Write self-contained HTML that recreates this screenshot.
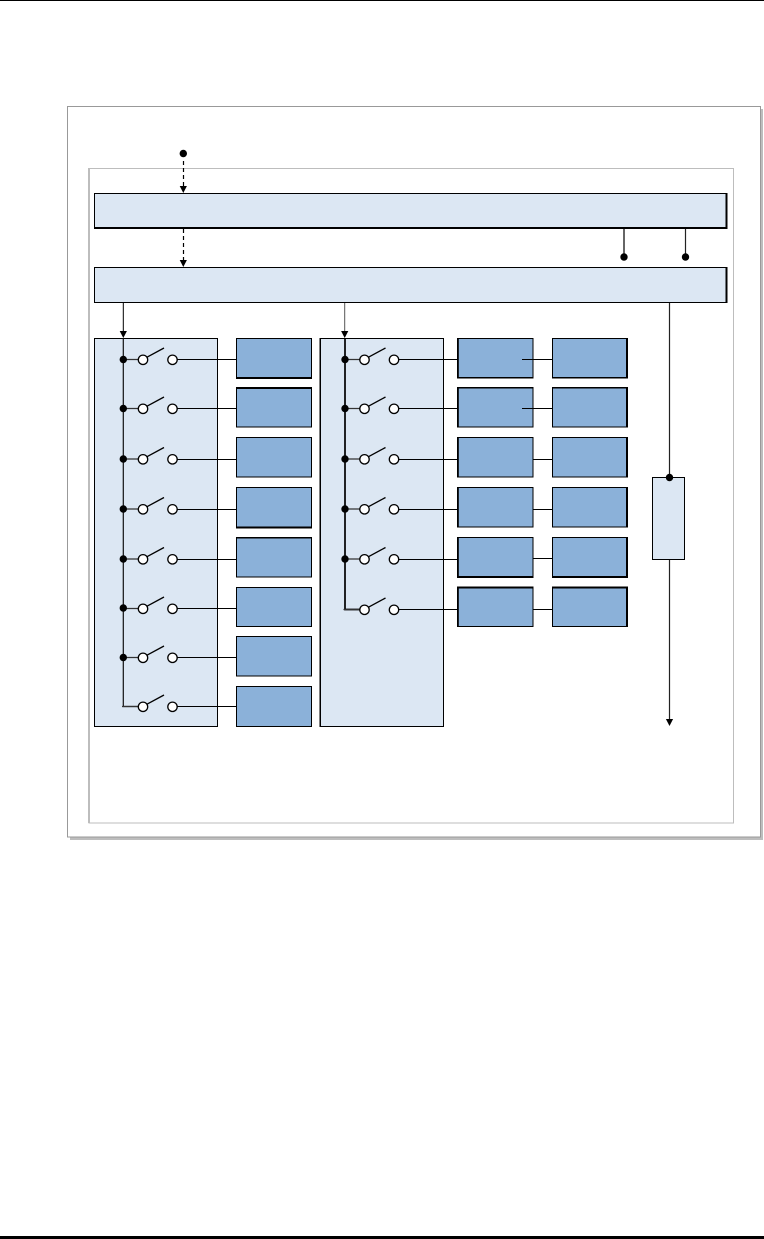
<!DOCTYPE html>
<html><head><meta charset="utf-8"><style>html,body{margin:0;padding:0;background:#fff;width:764px;height:1239px;overflow:hidden}svg{display:block}</style></head>
<body>
<svg width="764" height="1239" viewBox="0 0 764 1239" xmlns="http://www.w3.org/2000/svg">
<defs>
<g id="sw"><line x1="0" y1="0" x2="-21" y2="0" stroke="#333" stroke-width="1.2"/><line x1="4" y1="-2.3" x2="21" y2="-11.5" stroke="#000" stroke-width="1.3"/><circle cx="0" cy="0.3" r="4.7" fill="#fff" stroke="#000" stroke-width="1.3"/><circle cx="29.500" cy="0.3" r="4.7" fill="#fff" stroke="#000" stroke-width="1.3"/></g>
<g id="dot"><circle r="3.7" fill="#000"/></g>
<path id="arr" d="M-3.6,-7 L3.6,-7 L0,0 Z" fill="#000"/>
</defs>
<rect x="0" y="0" width="764" height="1" fill="#000"/>
<rect x="0" y="1236" width="764" height="3" fill="#000"/>
<!-- outer -->
<rect x="70" y="109" width="693" height="731" fill="#bdbdbd"/>
<rect x="67.500" y="106.500" width="693" height="730.500" fill="#fff" stroke="#999" stroke-width="1"/>
<!-- inner -->
<rect x="89" y="168.500" width="644.500" height="654.500" fill="#fff" stroke="#bdbdbd" stroke-width="1"/>
<rect x="88" y="168" width="2" height="655" fill="#bdbdbd"/>
<!-- bars -->
<rect x="94.500" y="193.500" width="632" height="34.500" fill="#dce7f3" stroke="#000" stroke-width="1"/>
<rect x="94" y="227" width="633.500" height="2" fill="#000"/>
<rect x="725.500" y="193" width="2" height="36" fill="#000"/>
<rect x="94.500" y="267.500" width="632" height="35" fill="#dce7f3" stroke="#000" stroke-width="1"/>
<rect x="725.500" y="267" width="2" height="36" fill="#000"/>
<!-- dashed -->
<use href="#dot" x="183.300" y="153.500"/>
<line x1="183.500" y1="161" x2="183.500" y2="188" stroke="#000" stroke-width="1.200" stroke-dasharray="4,3"/>
<use href="#arr" x="183.300" y="193"/>
<line x1="183.500" y1="229" x2="183.500" y2="262" stroke="#000" stroke-width="1.200" stroke-dasharray="4,3"/>
<use href="#arr" x="183.300" y="267"/>
<!-- stubs -->
<line x1="624" y1="229" x2="624" y2="257" stroke="#333" stroke-width="1.500"/>
<use href="#dot" x="624" y="257"/>
<line x1="685.500" y1="229" x2="685.500" y2="257" stroke="#222" stroke-width="1.200"/>
<use href="#dot" x="685.500" y="257"/>
<!-- panels -->
<rect x="94.500" y="338.500" width="123" height="388" fill="#dce7f3" stroke="#000" stroke-width="1"/>
<rect x="320" y="338.500" width="123.500" height="388" fill="#dce7f3" stroke="#000" stroke-width="1"/>
<rect x="319.500" y="338" width="1.500" height="389" fill="#000"/>
<!-- connectors to left boxes -->
<g stroke="#000" stroke-width="1">
<line x1="177" y1="359.500" x2="237" y2="359.500"/>
<line x1="177" y1="408.500" x2="237" y2="408.500"/>
<line x1="177" y1="459.500" x2="237" y2="459.500"/>
<line x1="177" y1="509.500" x2="237" y2="509.500"/>
<line x1="177" y1="559.500" x2="237" y2="559.500"/>
<line x1="177" y1="608.500" x2="237" y2="608.500"/>
<line x1="177" y1="657.500" x2="237" y2="657.500"/>
<line x1="177" y1="706.500" x2="237" y2="706.500"/>
<line x1="398" y1="359.500" x2="458" y2="359.500"/>
<line x1="398" y1="408.500" x2="458" y2="408.500"/>
<line x1="398" y1="459.500" x2="458" y2="459.500"/>
<line x1="398" y1="509.500" x2="458" y2="509.500"/>
<line x1="398" y1="559.500" x2="458" y2="559.500"/>
<line x1="398" y1="609.500" x2="458" y2="609.500"/>
</g>
<!-- blue boxes -->
<g fill="#8bb1d9" stroke="#000" stroke-width="1">
<rect x="236.500" y="338.500" width="75" height="39.500"/><rect x="236.500" y="387.500" width="75" height="39.500"/>
<rect x="236.500" y="437.500" width="75" height="39.500"/><rect x="236.500" y="487.500" width="75" height="39.500"/>
<rect x="236.500" y="537.500" width="75" height="39.500"/><rect x="236.500" y="587.500" width="75" height="39"/>
<rect x="236.500" y="636.500" width="75" height="39.500"/><rect x="236.500" y="686.500" width="75" height="40"/>
<rect x="458" y="338.500" width="75" height="39"/><rect x="458" y="387.500" width="75" height="39.500"/>
<rect x="458" y="437.500" width="75" height="39.500"/><rect x="458" y="487.500" width="75" height="39.500"/>
<rect x="458" y="537.500" width="75" height="39.500"/><rect x="458" y="587.500" width="75" height="39"/>
<rect x="552.500" y="338.500" width="75" height="39"/><rect x="552.500" y="387.500" width="75" height="39.500"/>
<rect x="552.500" y="437.500" width="75" height="39.500"/><rect x="552.500" y="487.500" width="75" height="39.500"/>
<rect x="552.500" y="537.500" width="75" height="39.500"/><rect x="552.500" y="587.500" width="75" height="39"/>
</g>
<!-- thick edges -->
<g fill="#000">
<rect x="236" y="377" width="76" height="2"/><rect x="236" y="387" width="76" height="2"/>
<rect x="236" y="526.500" width="76" height="2"/><rect x="236" y="537" width="76" height="1.500"/>
<rect x="457" y="377" width="76.500" height="1.500"/><rect x="457" y="387" width="76.500" height="1.500"/>
<rect x="552" y="377" width="76" height="1.500"/><rect x="552" y="387" width="76" height="1.500"/>
<rect x="457" y="576" width="76.500" height="2"/><rect x="457" y="586.500" width="76.500" height="2"/>
<rect x="552" y="576" width="76" height="2"/><rect x="552" y="586.500" width="76" height="2"/>
<!-- left edges of middle boxes -->
<rect x="457" y="338" width="1.800" height="40"/><rect x="457" y="387" width="1.800" height="40.500"/>
<rect x="457" y="437" width="1.800" height="40.500"/><rect x="457" y="487" width="1.800" height="40.500"/>
<rect x="457" y="537" width="1.800" height="41"/><rect x="457" y="586.500" width="1.800" height="40.500"/>
<!-- right edges of right boxes -->
<rect x="626" y="338" width="2" height="40.500"/><rect x="626" y="387" width="2" height="40.500"/>
<rect x="626" y="437" width="2" height="40.500"/><rect x="626" y="487" width="2" height="40.500"/>
<rect x="626" y="537" width="2" height="41"/><rect x="626" y="586.500" width="2" height="40.500"/>
</g>
<!-- box to box connectors -->
<g stroke="#000" stroke-width="1">
<line x1="522" y1="359.500" x2="552" y2="359.500"/>
<line x1="522" y1="408.500" x2="552" y2="408.500"/>
<line x1="533" y1="459.500" x2="552" y2="459.500"/>
<line x1="533" y1="509.500" x2="552" y2="509.500"/>
<line x1="533" y1="558.500" x2="552" y2="558.500"/>
<line x1="533" y1="609.500" x2="552" y2="609.500"/>
</g>
<!-- left bus -->
<line x1="123.300" y1="303" x2="123.300" y2="333" stroke="#000" stroke-width="1"/>
<use href="#arr" x="123.300" y="338"/>
<path d="M123.300,338 V706.500 H140" fill="none" stroke="#111" stroke-width="1.200"/>
<!-- mid bus -->
<line x1="344.700" y1="303" x2="344.700" y2="333" stroke="#555" stroke-width="1"/>
<use href="#arr" x="344.700" y="338"/>
<path d="M345,338 V609.500 H362" fill="none" stroke="#000" stroke-width="1.700"/>
<!-- switches left -->
<use href="#sw" x="143" y="359.500"/><use href="#sw" x="143" y="408.500"/><use href="#sw" x="143" y="459"/><use href="#sw" x="143" y="509"/>
<use href="#sw" x="143" y="559"/><use href="#sw" x="143" y="608.500"/><use href="#sw" x="143" y="657.500"/><use href="#sw" x="143" y="706.500"/>
<use href="#dot" x="123.300" y="359.500"/><use href="#dot" x="123.300" y="408.500"/><use href="#dot" x="123.300" y="459"/><use href="#dot" x="123.300" y="509"/>
<use href="#dot" x="123.300" y="559"/><use href="#dot" x="123.300" y="608"/><use href="#dot" x="123.300" y="657.500"/>
<!-- switches mid -->
<use href="#sw" x="364.500" y="359.500"/><use href="#sw" x="364.500" y="408.500"/><use href="#sw" x="364.500" y="459"/><use href="#sw" x="364.500" y="509"/>
<use href="#sw" x="364.500" y="559"/><use href="#sw" x="364.500" y="609.500"/>
<use href="#dot" x="345" y="359.500"/><use href="#dot" x="345" y="408.500"/><use href="#dot" x="345" y="459"/><use href="#dot" x="345" y="509"/><use href="#dot" x="345" y="559"/>
<!-- right resistor -->
<line x1="669.500" y1="303" x2="669.500" y2="722" stroke="#222" stroke-width="1.200"/>
<rect x="652.500" y="477.500" width="32" height="82" fill="#dce7f3" stroke="#000" stroke-width="1"/>
<use href="#dot" x="669.500" y="477.500"/>
<use href="#arr" x="669.500" y="726"/>
</svg>
</body></html>
